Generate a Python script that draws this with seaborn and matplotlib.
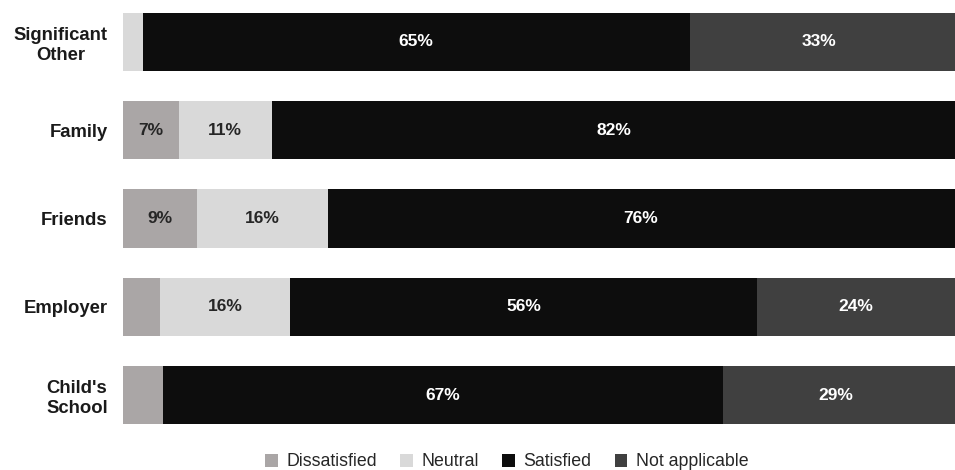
import matplotlib
matplotlib.use("Agg")
import matplotlib.pyplot as plt
from matplotlib.patches import Patch
import seaborn as sns
import pandas as pd
import numpy as np

categories = ["Significant\nOther", "Family", "Friends", "Employer", "Child's\nSchool"]
series = ["Dissatisfied", "Neutral", "Satisfied", "Not applicable"]
dissatisfied = [0.0, 6.7, 8.9, 4.4, 4.8]
neutral = [2.4, 11.2, 15.7, 15.7, 0.0]
satisfied = [65.7, 82.1, 75.6, 56.1, 67.3]
not_applicable = [32.6, 0.0, 0.0, 23.8, 28.6]
colors = ["#aaa6a6", "#d9d9d9", "#0d0d0d", "#404040"]
text_colors = ["#262626", "#262626", "white", "white"]

sns.set_theme(style="white")
plt.rcParams["font.family"] = ["Liberation Sans", "DejaVu Sans"]

values = np.array([dissatisfied, neutral, satisfied, not_applicable])
cum = np.cumsum(values, axis=0)

fig = plt.figure(figsize=(9.55, 4.70), dpi=100)
ax = fig.add_axes([123 / 955, (470 - 425.9) / 470, 832 / 955, 414.8 / 470])

# draw cumulative bars, largest first, so stacks appear
for i in range(len(series) - 1, -1, -1):
    df = pd.DataFrame({"category": categories, "value": cum[i]})
    sns.barplot(data=df, x="value", y="category", orient="h", color=colors[i],
                width=0.66, ax=ax, edgecolor="none", linewidth=0, saturation=1)

# labels
for i in range(len(series)):
    for j in range(len(categories)):
        v = values[i, j]
        if v >= 5.5:
            center = min(cum[i, j], 100) - v / 2
            ax.text(center, j, f"{int(v)}%" if i == 2 and j == 0 else f"{v:.0f}%",
                    ha="center", va="center",
                    color=text_colors[i], fontsize=12.5, fontweight="bold")

ax.set_xlim(0, 100)
ax.set_ylim(4.35, -0.35)
ax.set_xlabel("")
ax.set_ylabel("")
ax.set_xticks([])
for s in ax.spines.values():
    s.set_visible(False)
ax.tick_params(axis="y", length=0, pad=11)
for lbl in ax.get_yticklabels():
    lbl.set_fontweight("bold")
    lbl.set_fontsize(13.3)
    lbl.set_color("#1a1a1a")
    lbl.set_multialignment("center")

handles = [Patch(facecolor=c, edgecolor="none", label=s) for c, s in zip(colors, series)]
fig.legend(handles=handles, loc="center", bbox_to_anchor=(507 / 955, 1 - 462 / 470),
           ncol=4, frameon=False, fontsize=12.8, handlelength=0.7, handleheight=0.7,
           handletextpad=0.5, columnspacing=1.3, labelcolor="#262626")

fig.savefig("out.png", dpi=100)
